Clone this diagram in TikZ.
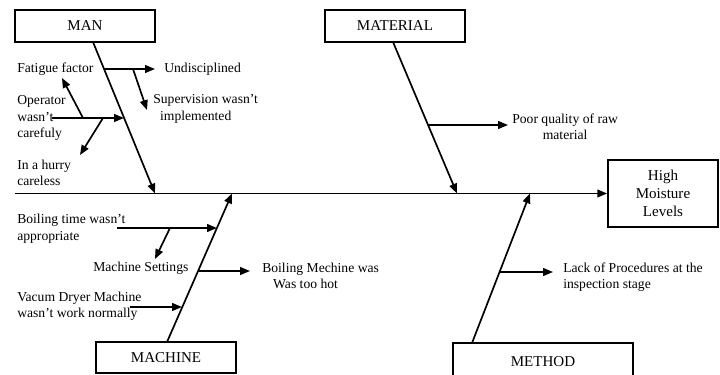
\documentclass[tikz,border=0pt]{standalone}
\usepackage{fontspec}
\setmainfont{Liberation Serif}
\usetikzlibrary{arrows.meta}

\begin{document}
\begin{tikzpicture}[x=0.025cm, y=-0.025cm,
  catbox/.style={draw, line width=1.2pt, minimum width=3.5cm, minimum height=0.8cm,
    inner sep=0pt, font=\fontsize{10.7}{12.8}\selectfont},
  cause/.style={anchor=west, align=left, inner sep=0pt, font=\fontsize{9.7}{11.7}\selectfont},
  bone/.style={line width=1.2pt, -{Triangle[length=7pt,width=5.5pt]}}]
\useasboundingbox (0,0) rectangle (720,374);
\clip (0,0) rectangle (720,374);

% category boxes
\node[catbox] (man) at (85,26) {MAN};
\node[catbox] (material) at (395,26) {MATERIAL};
\node[catbox, minimum height=0.775cm] (machine) at (166,357.5) {MACHINE};
\node[catbox, minimum width=4.5cm, minimum height=0.95cm] (method) at (543,362) {METHOD};
\node[catbox, minimum width=2.75cm, minimum height=1.675cm, align=center] (effect) at (663,193.5) {High\\Moisture\\Levels};

% causes
\node[cause] (fatigue) at (17,69) {Fatigue factor};
\node[cause] (undisc) at (164,69) {Undisciplined};
\node[cause] (superv) at (153,109) {Supervision wasn't\\\hspace{0.5em}implemented};
\node[cause] (operator) at (17,118) {Operator\\wasn't\\carefuly};
\node[cause] (hurry) at (17,173) {In a hurry\\careless};
\node[cause] (boiltime) at (17,228.5) {Boiling time wasn't\\appropriate};
\node[cause] (settings) at (93,268) {Machine Settings};
\node[cause] (hot) at (262,276) {Boiling Mechine was\\\hspace{0.8em}Was too hot};
\node[cause] (vacum) at (17,306.5) {Vacum Dryer Machine\\wasn't work normally};
\node[cause, align=center] (rawmat) at (512,126.5) {Poor quality of raw\\material};
\node[cause] (proc) at (563,277) {Lack of Procedures at the\\inspection stage};

% spine and bones
\coordinate (spineL) at (15,193.5);
\coordinate (manT) at (93,42);
\coordinate (manH) at (155,193.5);
\coordinate (matT) at (393,42);
\coordinate (matH) at (457,193.5);
\coordinate (macT) at (167,342);
\coordinate (macH) at (232,193.5);
\coordinate (metT) at (472,343);
\coordinate (metH) at (530,193.5);

\draw[bone] (spineL) -- (effect.west);
\draw[bone] (manT) -- (manH);
\draw[bone] (matT) -- (matH);
\draw[bone] (macT) -- (macH);
\draw[bone] (metT) -- (metH);

% twigs
\coordinate (jUnd) at (104,69);   \coordinate (tUnd) at (155,69);
\coordinate (jSup) at (133,69);   \coordinate (tSup) at (147,110);
\coordinate (sOp) at (52,118);    \coordinate (jOp) at (124,118);
\coordinate (jFat) at (83,118);   \coordinate (tFat) at (62,78);
\coordinate (jHur) at (103,118);  \coordinate (tHur) at (80,155);
\coordinate (jRaw) at (428,125);  \coordinate (tRaw) at (508,125);
\coordinate (sBoil) at (117,228); \coordinate (jBoil) at (217,228);
\coordinate (jSet) at (170,228);  \coordinate (tSet) at (155,259);
\coordinate (jHot) at (198,271);  \coordinate (tHot) at (250,271);
\coordinate (sVac) at (130,307);  \coordinate (jVac) at (182,307);
\coordinate (jProc) at (500,272); \coordinate (tProc) at (553,272);

\draw[bone] (jUnd) -- (tUnd);
\draw[bone] (jSup) -- (tSup);
\draw[bone] (sOp) -- (jOp);
\draw[bone] (jFat) -- (tFat);
\draw[bone] (jHur) -- (tHur);
\draw[bone] (jRaw) -- (tRaw);
\draw[bone] (sBoil) -- (jBoil);
\draw[bone] (jSet) -- (tSet);
\draw[bone] (jHot) -- (tHot);
\draw[bone] (sVac) -- (jVac);
\draw[bone] (jProc) -- (tProc);
\end{tikzpicture}
\end{document}
